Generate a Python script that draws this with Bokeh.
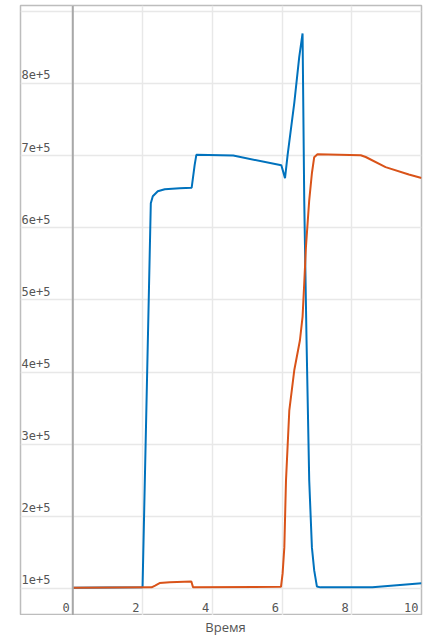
from bokeh.plotting import figure
from bokeh.layouts import column
from bokeh.models import Range1d, FixedTicker, Span, ColumnDataSource, Div
from bokeh.core.properties import value
from bokeh.embed import file_html
from bokeh.resources import INLINE

# ---- data ----
blue_x = [0.0, 2.0, 2.237, 2.294, 2.437, 2.637, 3.066, 3.409, 3.494, 3.543, 4.6, 5.98,
          6.086, 6.16, 6.351, 6.494, 6.589, 6.637, 6.703, 6.78, 6.857, 6.923, 7.0, 7.1,
          8.59, 10.0]
blue_y = [101000, 101500, 634000, 643700, 650600, 653400, 654800, 655500, 686700, 701000,
          700000, 686500, 668700, 700500, 772700, 836900, 869300, 638000, 444000, 249800,
          156900, 125000, 102800, 101500, 101500, 107300]

orange_x = [0.0, 2.26, 2.36, 2.49, 2.78, 3.4, 3.447, 5.97, 6.017, 6.066, 6.114, 6.209,
            6.351, 6.514, 6.589, 6.637, 6.686, 6.78, 6.857, 6.923, 7.017, 8.257, 8.4,
            8.97, 9.637, 10.0]
orange_y = [101000, 101500, 104000, 107400, 108700, 109700, 101800, 102200, 120800,
            156900, 249800, 346900, 402400, 444000, 476300, 523000, 573400, 638000,
            675500, 697700, 701900, 700500, 698000, 684000, 673800, 669000]

x_ticks = [0, 2, 4, 6, 8, 10]
x_tick_labels = ["0", "2", "4", "6", "8", "10"]
y_grid = [100000, 200000, 300000, 400000, 500000, 600000, 700000, 800000, 900000]
y_ticks = [100000, 200000, 300000, 400000, 500000, 600000, 700000, 800000]
y_tick_labels = ["1e+5", "2e+5", "3e+5", "4e+5", "5e+5", "6e+5", "7e+5", "8e+5"]
x_title = "Время"

X0, X1 = -1.5, 10.0
Y0, Y1 = 62500, 908000

p = figure(width=423, height=615, output_backend="svg", toolbar_location=None,
           x_range=Range1d(X0, X1), y_range=Range1d(Y0, Y1),
           min_border_left=20, min_border_right=2, min_border_top=5, min_border_bottom=0)
p.background_fill_color = "white"
p.border_fill_color = "white"
p.outline_line_color = "#bdbdbd"
p.outline_line_width = 1.5

p.yaxis.visible = False
p.yaxis.ticker = FixedTicker(ticks=[])
p.xaxis.visible = False
p.xaxis.ticker = FixedTicker(ticks=[])

p.xgrid.ticker = FixedTicker(ticks=x_ticks)
p.ygrid.ticker = FixedTicker(ticks=y_grid)
p.xgrid.grid_line_color = "#e8e8e8"
p.ygrid.grid_line_color = "#e8e8e8"
p.xgrid.grid_line_width = 1.5
p.ygrid.grid_line_width = 1.5

p.add_layout(Span(location=0, dimension="height", line_color="#a8a8a8", line_width=2))

p.line(blue_x, blue_y, line_color="#0072BD", line_width=2)
p.line(orange_x, orange_y, line_color="#D95319", line_width=2)

ysrc = ColumnDataSource(dict(x=[X0] * len(y_ticks), y=y_ticks, t=y_tick_labels))
p.text(x="x", y="y", text="t", source=ysrc, x_offset=1, y_offset=-4,
       text_align="left", text_baseline="bottom", text_font=value("DejaVu Sans Mono"),
       text_font_size="12px", text_color="#555555")

xsrc = ColumnDataSource(dict(x=x_ticks, y=[Y0] * len(x_ticks), t=x_tick_labels))
p.text(x="x", y="y", text="t", source=xsrc, x_offset=-3, y_offset=-4,
       text_align="right", text_baseline="bottom", text_font=value("DejaVu Sans Mono"),
       text_font_size="12px", text_color="#555555")

title_div = Div(text=x_title, width=423, height=20,
                styles={"padding-left": "18px", "padding-top": "0px", "text-align": "center",
                        "font-family": "Open Sans", "font-size": "13px",
                        "line-height": "15px", "color": "#555555",
                        "box-sizing": "border-box"})

layout = column(p, title_div, spacing=0)

open("out.html", "w").write(file_html(layout, INLINE))
